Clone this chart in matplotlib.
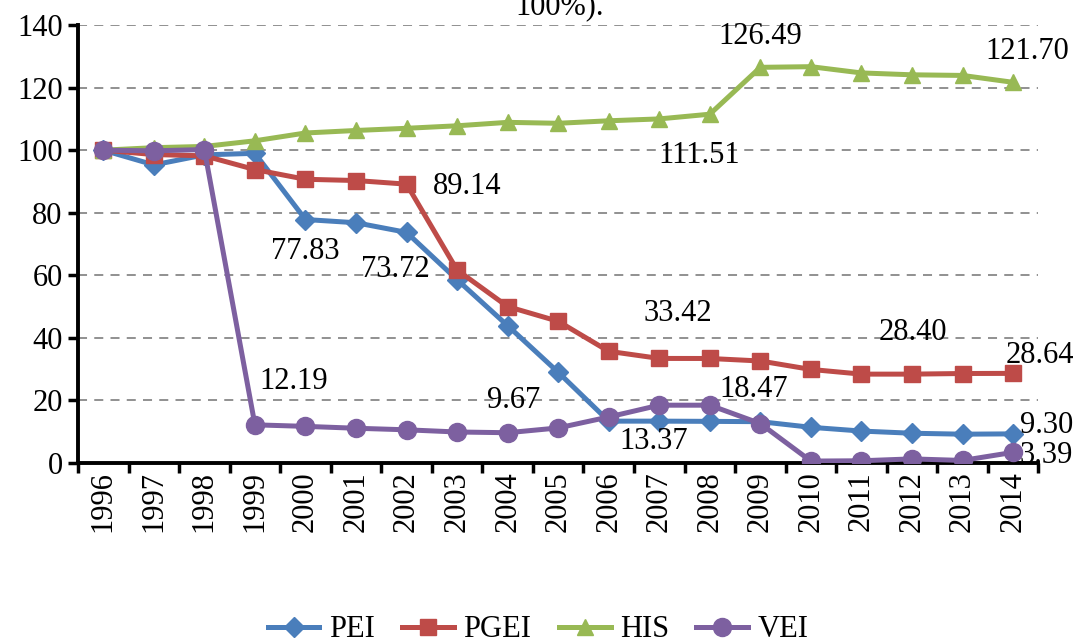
import numpy as np
import matplotlib.pyplot as plt

plt.rcParams['font.family'] = ['Liberation Serif', 'DejaVu Serif']

years = [str(y) for y in range(1996, 2015)]
pei = [100, 95.3, 98.5, 99.0, 77.83, 76.8, 73.72, 58.6, 43.9, 29.0, 13.37, 13.37, 13.3, 13.2, 11.4, 10.2, 9.5, 9.2, 9.30]
pgei = [100, 98.6, 98.2, 93.8, 90.7, 90.3, 89.14, 61.7, 50.0, 45.3, 35.7, 33.42, 33.4, 32.6, 29.9, 28.40, 28.4, 28.6, 28.64]
his = [100, 100.8, 101.2, 103.0, 105.5, 106.3, 107.0, 107.8, 108.9, 108.6, 109.4, 110.0, 111.51, 126.49, 126.7, 124.7, 124.1, 123.9, 121.70]
vei = [100, 99.8, 100.2, 12.19, 11.7, 11.1, 10.6, 9.9, 9.67, 11.2, 14.7, 18.47, 18.47, 12.6, 0.6, 0.7, 1.3, 0.8, 3.39]

# data labels: (series, year index, text, x offset, y offset) offsets in points
labels = [
    (his, 13, "126.49", 0, 22),
    (his, 18, "121.70", 10, 22),
    (his, 12, "111.51", -8, -30),
    (pgei, 6, "89.14", 44, -2),
    (pei, 4, "77.83", 0, -23),
    (pei, 6, "73.72", -8, -27),
    (pgei, 11, "33.42", 13, 32),
    (pgei, 15, "28.40", 37, 30),
    (pgei, 18, "28.64", 19, 13),
    (vei, 3, "12.19", 28, 31),
    (vei, 8, "9.67", 4, 23),
    (vei, 11, "18.47", 68, 11),
    (pei, 11, "13.37", -4, -15),
    (pei, 18, "9.30", 24, 6),
    (vei, 18, "3.39", 24, -2),
]

fig = plt.figure(figsize=(10.76, 6.43), dpi=100)
ax = fig.add_axes([0.0725, 0.28, 0.8925, 0.681])

x = np.arange(len(years))
ax.plot(x, pei, color='#4A7EBB', lw=3.6, marker='D', ms=10, label='PEI', zorder=3)
ax.plot(x, pgei, color='#BE4B48', lw=3.6, marker='s', ms=12, label='PGEI', zorder=3)
ax.plot(x, his, color='#98B954', lw=3.6, marker='^', ms=12, label='HIS', zorder=3)
ax.plot(x, vei, color='#7D60A0', lw=3.6, marker='o', ms=13, label='VEI', zorder=4)

for ser, i, txt, dx, dy in labels:
    ax.annotate(txt, (x[i], ser[i]), xytext=(dx, dy), textcoords='offset points',
                ha='center', va='center', fontsize=22, zorder=5)

ax.set_xlim(-0.5, len(years) - 0.5)
ax.set_ylim(0, 140)
ax.set_yticks(range(0, 141, 20))
ax.set_xticks(x)
ax.set_xticklabels(years, rotation=90, fontsize=22)
ax.set_xticks(np.arange(-0.5, len(years)), minor=True)
ax.tick_params(axis='x', which='major', length=0, pad=6)
ax.tick_params(axis='x', which='minor', length=7, width=2.5, direction='out')
ax.tick_params(axis='y', labelsize=22, length=7, width=2.5, direction='out', pad=4)
ax.yaxis.grid(True, linestyle=(0, (5, 4)), color='#888888', lw=1.3)
ax.set_axisbelow(True)
for s in ['top', 'right']:
    ax.spines[s].set_visible(False)
for s in ['left', 'bottom']:
    ax.spines[s].set_linewidth(2.8)

fig.text(0.52, 0.99, "100%).", ha='center', va='center', fontsize=22)

fig.legend(loc='lower center', bbox_to_anchor=(0.5, -0.045), ncol=4, frameon=False,
           fontsize=22, handlelength=1.7, columnspacing=0.9, handletextpad=0.3)

fig.savefig("out.png", dpi=100)
